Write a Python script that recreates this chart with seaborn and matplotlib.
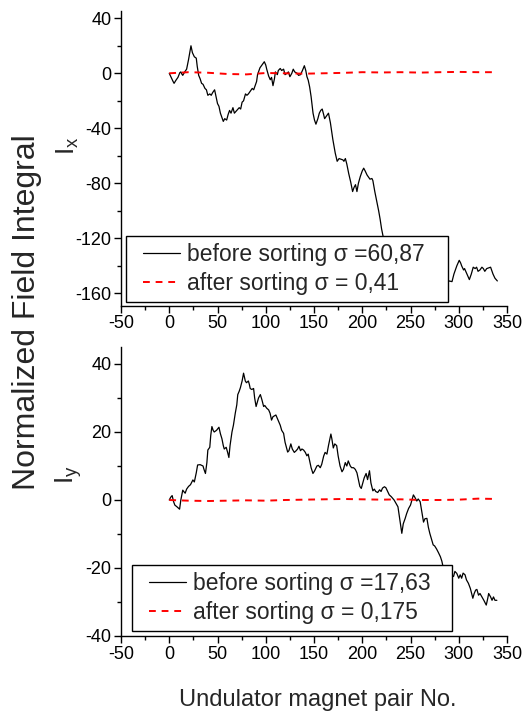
import numpy as np
import pandas as pd
import matplotlib
matplotlib.use("Agg")
import matplotlib.pyplot as plt
from matplotlib.ticker import MultipleLocator
from matplotlib.legend_handler import HandlerLine2D
import seaborn as sns

# ---------------- data ----------------
ix_before_x = [0, 2, 4, 5, 7, 9, 11, 12, 13, 14, 16, 18, 20, 22.5, 24, 26, 28, 29, 30.5, 32,
               33.5, 35, 37, 38.5, 40, 42, 43.5, 45, 47, 48.5, 50, 51.5, 53, 54.5, 56, 57.5,
               59.5, 61, 62.5, 64, 66, 67.5, 70, 72.5, 74, 75.5, 77, 79, 80.5, 82, 84, 86,
               87.5, 89, 90.5, 91.5, 94, 96, 98.5, 100, 101, 103, 104.7, 106, 107.5, 109,
               110, 112, 113, 115, 116.5, 118.5, 120, 122, 123.5, 125, 127, 128.5, 130,
               132.5, 134, 136, 138, 140, 141.5, 142.7, 144, 145.5, 147, 149, 150.5, 152,
               154, 155.5, 157, 158.5, 160, 161, 163, 165, 167, 169.5, 172, 174, 176, 178,
               180, 181, 182.5, 184, 186, 188, 190, 191.5, 193, 194.5, 196, 198, 200,
               201.5, 203, 205, 207, 208, 210, 211, 213, 215, 217, 218.5, 220, 222, 224,
               226, 230, 235, 240, 245, 250, 255, 260, 265, 270, 275, 280, 285, 290, 293,
               295, 296.5, 298, 300.5, 302, 303, 305, 306, 308.5, 311, 313, 315, 317,
               318.5, 320, 322, 324, 325.5, 327, 329, 331, 333, 335.5, 337.5, 340]
ix_before_y = [0, -3, -6, -7.3, -5, -3, 0.5, 1, -0.5, -1.5, 1, 3, 10, 20, 15, 12, 11, 5, -1.5, -4,
               -7.3, -8, -11, -12, -16, -15, -16, -14, -12, -17, -22, -24, -29, -32, -35, -33,
               -34, -30, -27, -29, -25, -29, -27, -25, -26, -21, -20, -15, -16, -15, -13, -11,
               -12, -9, -6, -1, 4, 6, 8.4, 6, 3, -2, -4.7, -3, -9, -4,
               1, -1, 2, 3.5, 2, 3, -1, 0, 1, -2.5, 0, 3, 1,
               0, -1.5, -1, 2, 5.5, 2, -2.5, -5, -10, -17, -29, -34, -37,
               -33, -29, -27, -26, -30, -33, -31, -29, -36, -48, -58, -64, -62, -62.5,
               -63, -64, -62, -66, -73, -79, -86, -83, -81, -86, -80, -75, -71,
               -69, -71, -74, -76, -77, -76.5, -78, -86, -93, -100, -106, -113, -120, -124,
               -128, -133, -138, -142, -140, -146, -150, -148, -152, -149, -153, -150, -155, -151, -151.5,
               -146, -143, -140, -136, -138, -140, -143, -142, -146, -150, -146, -141, -142,
               -141, -144, -143, -141, -142, -144, -142, -141.5, -141, -146, -149, -151]

ix_after_x = [0, 20, 40, 60, 80, 100, 120, 140, 160, 180, 200, 220, 240, 260, 280, 300, 320, 340]
ix_after_y = [0, 0.8, 0.4, -0.5, -0.8, 0.2, 0, -0.3, 0, 0.3, 0.8, 0.6, 0.8, 0.5, 0.8, 1.0, 0.8, 0.8]

iy_before_x = [0, 1.5, 3, 4.5, 5.8, 8, 10.7, 12, 14, 15, 16.5, 18, 20, 22, 24.5, 26, 28, 29.4, 32,
               35, 36, 37.5, 39, 40, 42, 43, 44.2, 45.5, 46.6, 49, 51.5, 53, 54.6, 56, 57, 59,
               60.5, 61.8, 63, 65, 66.5, 68.4, 70, 71, 72.5, 73.7, 75.5, 77, 78, 78.8, 80, 82,
               83, 83.9, 85.5, 87.4, 88.5, 90, 91.5, 92.5, 94.4, 96, 97.8, 99, 101, 103, 104.5,
               106, 107.5, 110.5, 112, 113.5, 115, 116.5, 118.5, 120, 122.7, 124, 126, 127.5,
               129.6, 131.5, 133, 134.4, 136, 137.5, 139.2, 141, 142.6, 144, 145.4, 147, 148.9,
               150.5, 153, 154.5, 156.5, 158, 160, 161.5, 163.4, 165, 167.5, 168.5, 170, 171.5,
               173.5, 175, 177, 179, 180.5, 182.4, 184, 185.5, 187.6, 189, 191, 192.8, 194.5,
               196, 197.5, 199, 200.5, 202, 204, 205.5, 207.5, 209, 211, 212.5, 214, 216, 218,
               219.5, 221, 223, 224.5, 226, 228, 230, 231.5, 233, 235, 237, 238.5, 240, 241,
               242.5, 244.5, 246, 248, 250, 251.5, 253, 254.5, 256.5, 258, 260, 261.5, 263.5,
               265, 267, 268.5, 270, 272, 273.5, 275, 277, 279, 281, 282.5, 284, 286, 288, 290,
               292, 294.6, 296, 298, 300, 301.5, 303, 304.5, 306.5, 308, 310, 312, 314.6, 316,
               317.5, 318.8, 320.5, 322, 324, 326, 328.5, 330, 331, 333, 334.5, 336, 337.5, 339.5]
iy_before_y = [0, 0.8, 1.3, -0.5, -1.5, -2, -2.7, 0, 2.9, 2.5, 2, 3.2, 4, 4.5, 5.9, 5.3, 8, 10.3, 10.4,
               10, 9, 7.8, 11, 14.7, 15.5, 19, 21.6, 20.5, 20, 20.5, 21.4, 19.5, 18, 16, 15, 15.5,
               14, 12.5, 16, 20, 22, 25.5, 28, 31, 32, 33, 35, 37.3, 36, 35, 34.5, 35,
               34, 32.8, 32.5, 32.8, 30, 27.5, 29, 30, 31, 29.5, 27.5, 27.8, 27, 26.5, 25.5,
               23.5, 24.5, 25, 24, 23, 22, 20.5, 19.6, 17, 14.1, 14.5, 16.5, 15,
               14, 14.5, 15, 15.8, 14.5, 15, 14.7, 14, 13, 13.5, 11.6, 9.5, 7.8,
               8.5, 10, 10.2, 9.5, 10.5, 12.9, 14, 13.5, 16, 19.4, 18, 15.3, 16.5,
               16, 13, 10, 8.3, 9, 11, 10, 11.5, 10, 9.5, 9.5, 9, 8,
               6, 4, 3.4, 5, 6.5, 7.8, 6, 8.6, 5, 2.7, 3.2, 2.5, 2.2, 3,
               2.5, 3.5, 3.9, 3.6, 2.7, 1.5, 1, 0.5, 0, -1, -2, -5, -8, -9.8,
               -7, -5.4, -4, -2.5, -1.5, 0, 1.5, 0.8, -0.3, 0.3, -0.5, -3, -6.5,
               -5.5, -5.4, -8, -9.8, -11.8, -13.2, -13.5, -14.4, -15.5, -16.7, -18, -20, -21, -22, -21.5,
               -22, -22.5, -21, -21.6, -23, -22, -23, -21.5, -22, -23.5, -24.5, -26, -28.9, -27.5,
               -26.5, -26.3, -28, -27.5, -28.5, -29.5, -30.9, -29, -27.5, -28.5, -29.5, -28.5, -29.5, -29.5]

iy_after_x = [0, 20, 40, 60, 80, 100, 120, 140, 160, 180, 200, 220, 240, 260, 280, 300, 320, 340]
iy_after_y = [0, -0.2, -0.3, -0.2, -0.1, -0.2, 0, 0.1, 0.2, 0.3, 0.2, 0.1, 0.2, 0, 0, 0.1, 0.4, 0.3]

ix_labels = ["before sorting σ =60,87", "after sorting σ = 0,41"]
iy_labels = ["before sorting σ =17,63", "after sorting σ = 0,175"]

# ---------------- style ----------------
sns.set_style("ticks")
plt.rcParams['font.family'] = ['Liberation Sans', 'DejaVu Sans']
plt.rcParams['axes.linewidth'] = 1.0
plt.rcParams['axes.unicode_minus'] = False

W, H = 528, 715
fig = plt.figure(figsize=(W / 100, H / 100), dpi=100)


def px_axes(left, top, right, bottom):
    return fig.add_axes([left / W, 1 - bottom / H, (right - left) / W, (bottom - top) / H])


ax1 = px_axes(121, 11.4, 507, 305.7)
ax2 = px_axes(121, 347, 507, 636)


class ShiftedLine(HandlerLine2D):
    """Legend line drawn with an indent from the left of the handle box."""
    def __init__(self, shift_pts, **kw):
        super().__init__(**kw)
        self.shift_pts = shift_pts

    def create_artists(self, legend, orig_handle, xdescent, ydescent, width,
                       height, fontsize, trans):
        arts = super().create_artists(legend, orig_handle, xdescent, ydescent,
                                      width, height, fontsize, trans)
        for a in arts:
            xd = np.asarray(a.get_xdata(), dtype=float).copy()
            if len(xd) >= 2:
                xd[0] = xd[0] + self.shift_pts
                a.set_xdata(xd)
        return arts


def draw(ax, bx, by, axx, ayy, labels):
    d1 = pd.DataFrame({"x": bx, "y": by})
    d2 = pd.DataFrame({"x": axx, "y": ayy})
    sns.lineplot(data=d1, x="x", y="y", ax=ax, color="black", lw=0.9,
                 estimator=None, label=labels[0])
    sns.lineplot(data=d2, x="x", y="y", ax=ax, color="#ff0000", lw=1.4,
                 estimator=None, label=labels[1], dashes=False)
    ax.lines[-1].set_dashes([3.5, 3])
    ax.set_xlim(-50, 350)
    ax.xaxis.set_major_locator(MultipleLocator(50))
    ax.xaxis.set_minor_locator(MultipleLocator(25))
    ax.set_xlabel("")
    ax.set_ylabel("")
    ax.tick_params(which="major", direction="out", length=5, width=1, labelsize=13,
                   color="black", labelcolor="black", pad=2)
    ax.tick_params(which="minor", direction="out", length=3, width=1, color="black")
    for s in ["left", "bottom"]:
        ax.spines[s].set_color("black")
        ax.spines[s].set_linewidth(1.0)
    sns.despine(ax=ax)


draw(ax1, ix_before_x, ix_before_y, ix_after_x, ix_after_y, ix_labels)
ax1.set_ylim(-169, 45)
ax1.yaxis.set_major_locator(MultipleLocator(40))
ax1.yaxis.set_minor_locator(MultipleLocator(20))

draw(ax2, iy_before_x, iy_before_y, iy_after_x, iy_after_y, iy_labels)
ax2.set_ylim(-40, 45)
ax2.yaxis.set_major_locator(MultipleLocator(20))
ax2.yaxis.set_minor_locator(MultipleLocator(10))

for ax, anchor in [(ax1, (0.0122, 0.0126, 0.835, 0.2)), (ax2, (0.0277, 0.017, 0.830, 0.2))]:
    handles, labs = ax.get_legend_handles_labels()
    hm = {h: ShiftedLine(7.2) for h in handles}
    leg = ax.legend(handles, labs, loc="lower left", bbox_to_anchor=anchor,
                    mode="expand", borderaxespad=0, handler_map=hm,
                    fontsize=16.5, frameon=True, fancybox=False, framealpha=1,
                    edgecolor="black", handlelength=2.05, handletextpad=0.33,
                    labelspacing=0.28, borderpad=0.3)
    leg.get_frame().set_linewidth(1.0)
    leg.set_zorder(5)

fig.text(27 / W, 1 - 312 / H, "Normalized Field Integral", rotation=90,
         ha="center", va="center", fontsize=23)
fig.text(68 / W, 1 - 146 / H, r"I$_\mathregular{x}$", rotation=90,
         ha="center", va="center", fontsize=19)
fig.text(68 / W, 1 - 475 / H, r"I$_\mathregular{y}$", rotation=90,
         ha="center", va="center", fontsize=19)
fig.text(318 / W, 1 - 700 / H, "Undulator magnet pair No.", ha="center",
         va="center", fontsize=17)

fig.savefig("out.png", dpi=100)
